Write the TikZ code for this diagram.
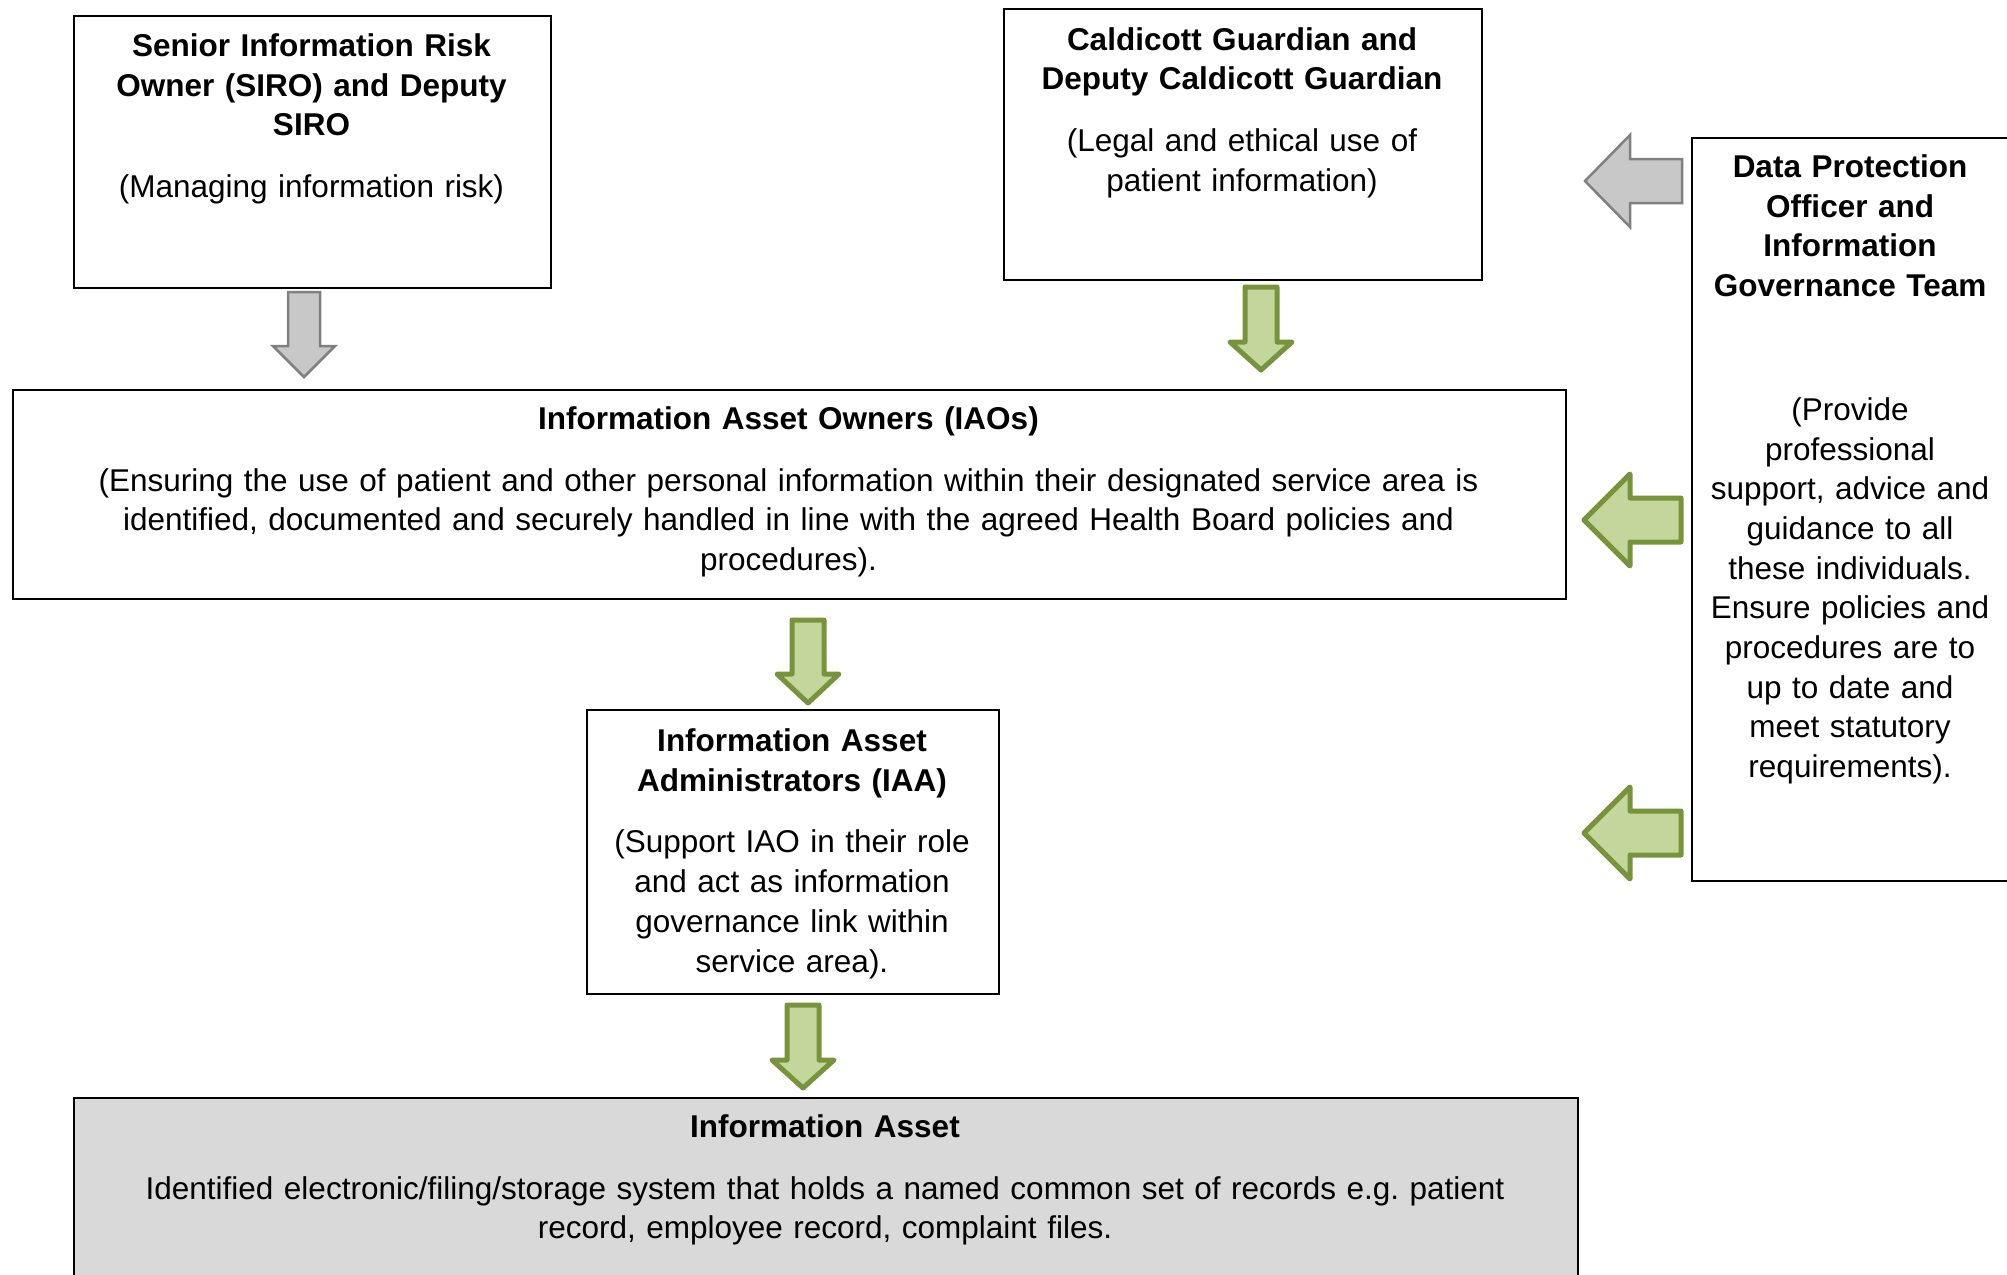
\documentclass[tikz,border=0pt]{standalone}
\usepackage{fontspec}
\setmainfont{Liberation Sans}
\definecolor{arrowgreen}{HTML}{C3D69B}
\definecolor{arrowgreenline}{HTML}{77933C}
\definecolor{arrowgrey}{HTML}{C8C8C8}
\definecolor{arrowgreyline}{HTML}{808080}
\definecolor{assetfill}{HTML}{D9D9D9}
\tikzset{
  box/.style={draw=black, line width=2pt, inner sep=0pt, anchor=north west},
  txt/.style={anchor=base, inner sep=0pt, align=center,
    font=\fontsize{31.5}{39.7}\selectfont},
  greyarrow/.style={fill=arrowgrey, draw=arrowgreyline, line width=2.5pt, line join=miter},
  greenarrow/.style={fill=arrowgreen, draw=arrowgreenline, line width=5pt, line join=round},
}
% block arrow pointing down: style, centre x, top, head base, tip
\newcommand\blockdown[5]{%
  \draw[#1] (#2-16,#3) -- (#2+16,#3) -- (#2+16,#4) -- (#2+31,#4) -- (#2,#5)
    -- (#2-31,#4) -- (#2-16,#4) -- cycle;}
% block arrow pointing left: style, centre y, tip x, head back x, tail x
\newcommand\blockleft[5]{%
  \draw[#1] (#5,#2-22) -- (#4,#2-22) -- (#4,#2-46) -- (#3,#2) -- (#4,#2+46)
    -- (#4,#2+22) -- (#5,#2+22) -- cycle;}
\begin{document}
\begin{tikzpicture}[x=1pt, y=-1pt]
\useasboundingbox (0,0) rectangle (2007,1274);
\clip (0,0) rectangle (2007,1274);

% role boxes
\node[box, minimum width=477pt, minimum height=272pt] (siro) at (73,15) {};
\node[box, minimum width=478pt, minimum height=271pt] (cald) at (1003,8) {};
\node[box, minimum width=339pt, minimum height=743pt] (dpo) at (1691,137) {};
\node[box, minimum width=1553pt, minimum height=209pt] (iao) at (12,389) {};
\node[box, minimum width=412pt, minimum height=284pt] (iaa) at (586,709) {};
\node[box, fill=assetfill, minimum width=1504pt, minimum height=203pt] (asset) at (73,1097) {};

% box texts: bold heading lines, then the description in regular weight
\node[txt, text width=470pt] (siro-t) at (311.5,56.5)
  {\bfseries Senior Information Risk\\ Owner (SIRO) and Deputy\\ SIRO\\[22pt]
   \mdseries (Managing information risk)};
\node[txt, text width=470pt] (cald-t) at (1242,50)
  {\bfseries Caldicott Guardian and\\ Deputy Caldicott Guardian\\[22pt]
   \mdseries (Legal and ethical use of\\ patient information)};
\node[txt, text width=320pt] (dpo-t) at (1850,177.5)
  {\bfseries Data Protection\\ Officer and\\ Information\\ Governance Team\\[84pt]
   \mdseries (Provide\\ professional\\ support, advice and\\ guidance to all\\ these individuals.\\
   Ensure policies and\\ procedures are to\\ up to date and\\ meet statutory\\ requirements).};
\node[txt, text width=1540pt] (iao-t) at (788.5,429.5)
  {\bfseries Information Asset Owners (IAOs)\\[22pt]
   \mdseries (Ensuring the use of patient and other personal information within their designated service area is\\
   identified, documented and securely handled in line with the agreed Health Board policies and\\
   procedures).};
\node[txt, text width=400pt] (iaa-t) at (792,751.5)
  {\bfseries Information Asset\\ Administrators (IAA)\\[22pt]
   \mdseries (Support IAO in their role\\ and act as information\\ governance link within\\ service area).};
\node[txt, text width=1490pt] (asset-t) at (825,1137.5)
  {\bfseries Information Asset\\[22pt]
   \mdseries Identified electronic/filing/storage system that holds a named common set of records e.g.\ patient\\
   record, employee record, complaint files.};

% block arrows
\blockdown{greyarrow}{304}{292}{346}{377}
\blockdown{greenarrow}{1261}{287}{342}{370}
\blockdown{greenarrow}{808}{620}{674}{703}
\blockdown{greenarrow}{803}{1005}{1060}{1088}
\blockleft{greyarrow}{181}{1585}{1630}{1682}
\blockleft{greenarrow}{520}{1584}{1630}{1681}
\blockleft{greenarrow}{833}{1584}{1630}{1681}
\end{tikzpicture}
\end{document}
